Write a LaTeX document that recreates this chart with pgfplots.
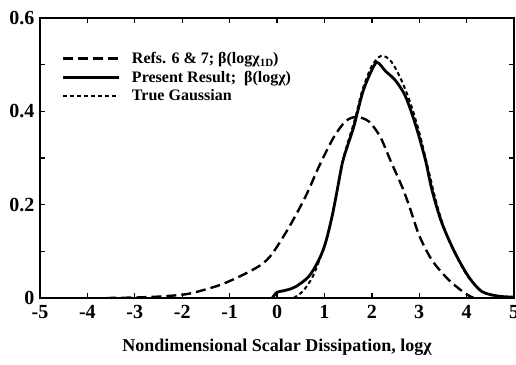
\documentclass[border=0pt]{standalone}
\usepackage{fontspec}
\setmainfont{Liberation Serif}
\usepackage{pgfplots}
\pgfplotsset{compat=1.18}
\begin{document}
\begin{tikzpicture}
\begin{axis}[
  at={(40bp,67bp)}, anchor=south west,
  scale only axis, width=474bp, height=280bp,
  xmin=-5, xmax=5, ymin=0, ymax=0.6,
  xtick={-5,-4,-3,-2,-1,0,1,2,3,4,5},
  xticklabels={-5,-4,-3,-2,-1,0,1,2,3,4,5},
  ytick={0,0.1,0.2,0.3,0.4,0.5,0.6},
  yticklabels={0,,0.2,,0.4,,0.6},
  tick align=inside, major tick length=5bp,
  tick style={line width=1.4pt, black},
  axis line style={line width=1.6pt},
  ticklabel style={font=\fontsize{20bp}{22bp}\selectfont\bfseries},
  xticklabel style={yshift=-4bp},
  yticklabel style={xshift=-2bp},
  xlabel={Nondimensional Scalar Dissipation, logχ},
  xlabel style={font=\fontsize{18bp}{20bp}\selectfont\bfseries, yshift=-13bp},
  legend cell align=left,
  legend image code/.code={\draw[#1] (0cm,0cm) -- (1.9756cm,0cm);},
  legend style={draw=none, fill=none, at={(axis cs:-4.62,0.536)}, anchor=north west,
    font=\fontsize{16bp}{18bp}\selectfont\bfseries, row sep=2bp,
    /tikz/every odd column/.append style={column sep=10bp}},
]
% Refs. 6 & 7
\addplot[black, line width=2.4pt, dash pattern=on 10bp off 5bp, smooth] coordinates {
(-3.6,0) (-3.0,0.001) (-2.5,0.003) (-2.0,0.007) (-1.7,0.013) (-1.2,0.028) (-0.73,0.049)
(-0.34,0.071) (-0.1,0.095) (0.25,0.151) (0.6,0.217) (0.9,0.285) (1.2,0.345)
(1.45,0.379) (1.68,0.388) (1.94,0.378) (2.18,0.345) (2.4,0.293) (2.64,0.238)
(2.8,0.194) (3.0,0.134) (3.27,0.081) (3.62,0.039) (3.97,0.010) (4.15,0)
};
\addlegendentry{Refs. 6 \& 7; β(logχ\raisebox{-3bp}{\fontsize{11bp}{11bp}\selectfont 1D})}
% Present result
\addplot[black, line width=2.8pt, smooth] coordinates {
(-0.1,0) (0.0,0.012) (0.2,0.017) (0.39,0.024) (0.67,0.046) (0.88,0.081) (1.02,0.117)
(1.16,0.174) (1.27,0.231) (1.38,0.29) (1.5,0.33) (1.62,0.367) (1.80,0.438)
(1.97,0.482) (2.11,0.505) (2.29,0.486) (2.50,0.466) (2.71,0.432) (2.92,0.372)
(3.13,0.296) (3.27,0.231) (3.48,0.160) (3.76,0.096) (4.04,0.046) (4.32,0.014)
(4.67,0.004) (5.0,0.002)
};
\addlegendentry{Present Result;\ \ β(logχ)}
% True Gaussian
\addplot[black, line width=2pt, dash pattern=on 4bp off 3bp, smooth] coordinates {
(0.35,0) (0.55,0.015) (0.75,0.045) (0.9,0.083) (1.02,0.117) (1.16,0.174)
(1.27,0.231) (1.38,0.29) (1.5,0.335) (1.65,0.385) (1.8,0.445) (2.0,0.497)
(2.2,0.519) (2.4,0.508) (2.6,0.472) (2.8,0.422) (3.0,0.355) (3.2,0.272)
(3.4,0.19) (3.6,0.13) (3.8,0.087) (4.0,0.05) (4.2,0.025) (4.4,0.01)
(4.7,0.003) (5.0,0.001)
};
\addlegendentry{True Gaussian}
\end{axis}
\pgfresetboundingbox
\path[use as bounding box] (0,0) rectangle (516bp,365bp);
\end{tikzpicture}
\end{document}
